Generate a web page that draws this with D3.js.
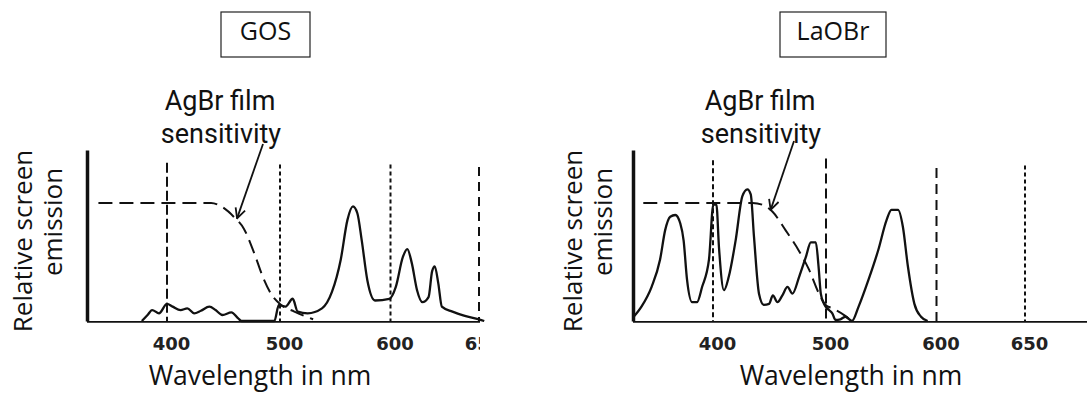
<!DOCTYPE html>
<html>
<head>
<meta charset="utf-8">
<script src="https://cdn.jsdelivr.net/npm/d3@7"></script>
<style>
  html, body { margin: 0; padding: 0; background: #fff; }
  svg { display: block; }
  text { fill: #111; }
</style>
</head>
<body>
<svg id="chart" width="1087" height="396" font-family="Open Sans, sans-serif"></svg>
<script>
// ---------- data ----------
const tickLabels = [400, 500, 600, 650];
const panelTitles = ["GOS", "LaOBr"];

const gosWavelength = [378, 383, 387, 393, 400, 405, 412, 418, 424, 430, 437.5, 443, 449, 457, 463, 466, 495, 499, 505, 511.5, 516, 525, 538, 547, 555, 561, 566, 570, 574, 579, 586, 599, 603, 607, 609.5, 612, 615, 618, 621.5, 623.5, 625, 627, 629, 635, 642, 650, 653];
const gosEmission   = [0, .035, .064, .045, .10, .084, .064, .074, .045, .06, .084, .064, .035, .05, .015, 0, 0, .094, .084, .13, .055, .045, .074, .17, .36, .59, .67, .63, .47, .24, .12, .13, .2, .375, .42, .34, .18, .11, .14, .29, .32, .22, .084, .055, .03, .01, 0];

const gosFilmWavelength  = [340, 439, 448, 459, 468, 477, 484.7, 492, 501, 513, 530];
const gosFilmSensitivity = [.69, .69, .67, .61, .54, .40, .26, .16, .094, .055, .01];

const laobrWavelength = [330, 337.4, 346.3, 353.7, 358.1, 362.6, 367, 371.4, 374.3, 377.3, 381.7, 386, 390.5, 396.5, 400.3, 403, 405.3, 409.7, 414, 420, 426, 430.4, 433.4, 436.3, 440.7, 445, 449.6, 453, 457, 461.4, 465.9, 470.3, 476.3, 482.2, 486.6, 491, 493.4, 495.4, 498.2, 502.7, 505.7, 508.6, 513, 517.6, 523.5, 529.5, 538.4, 547.3, 554.8, 559.2, 565.2, 569.6, 574.1, 580, 586, 592];
const laobrEmission   = [.02, .084, .20, .36, .53, .61, .62, .57, .47, .24, .11, .11, .20, .36, .68, .68, .43, .18, .26, .47, .73, .77, .74, .49, .16, .094, .10, .15, .11, .15, .20, .16, .26, .375, .46, .46, .32, .16, .10, .064, .045, .006, .01, .025, 0, .084, .24, .415, .59, .65, .65, .55, .32, .10, .025, 0];

const laobrFilmWavelength  = [339, 435, 443.6, 452.5, 464.3, 476.1, 485, 493.8, 499.7, 505.6, 517.4, 523];
const laobrFilmSensitivity = [.69, .69, .68, .64, .53, .41, .30, .16, .094, .075, .03, 0];

const annotationLines = ["AgBr film", "sensitivity"];
const yLabelLines = ["Relative screen", "emission"];
const xLabel = "Wavelength in nm";

// ---------- layout ----------
const svg = d3.select("#chart");
const baseY = 321, topY = 150;
const xDomain = [330, 400, 500, 600, 650, 690];
const xOffsets = [0, 80, 193, 303.5, 392, 462];

const panels = [
  { origin: 87, axisEnd: 483, clipLabels: 480, title: panelTitles[0], box: [221, 12, 89, 45],
    wl: gosWavelength, em: gosEmission, fwl: gosFilmWavelength, fs: gosFilmSensitivity,
    grid: [["10,4", 0.925], ["4,3", 0.915], ["4,3", 0.915], ["9,6", 0.9]],
    ann: { cx: 220, tip: [462, 0.6], start: [263, 144] },
    yl: { x1: 32, c1: 241, x2: 62, c2: 222 }, xl: 260 },
  { origin: 633, axisEnd: 1087, clipLabels: 1087, title: panelTitles[1], box: [780, 12, 106, 45],
    wl: laobrWavelength, em: laobrEmission, fwl: laobrFilmWavelength, fs: laobrFilmSensitivity,
    grid: [["5,3", 0.94], ["10,5", 0.95], ["10,6", 0.895], ["4,3", 0.91]],
    ann: { cx: 760, tip: [451, 0.65], start: [794, 141] },
    yl: { x1: 582, c1: 241, x2: 612, c2: 222 }, xl: 851 }
];

const defs = svg.append("defs");
defs.append("marker").attr("id", "arrow").attr("viewBox", "0 0 12 12")
  .attr("refX", 11).attr("refY", 6).attr("markerWidth", 12).attr("markerHeight", 12)
  .attr("markerUnits", "userSpaceOnUse").attr("orient", "auto")
  .append("path").attr("d", "M1,1 L11,6 L1,11").attr("fill", "none")
  .attr("stroke", "#111").attr("stroke-width", 1.8);

const y = d3.scaleLinear().domain([0, 1]).range([baseY, topY]);

panels.forEach((p, i) => {
  const x = d3.scaleLinear().domain(xDomain).range(xOffsets.map(o => p.origin + o));
  const g = svg.append("g");

  // title box
  g.append("rect").attr("x", p.box[0]).attr("y", p.box[1]).attr("width", p.box[2]).attr("height", p.box[3])
    .attr("fill", "none").attr("stroke", "#222").attr("stroke-width", 1.2);
  g.append("text").attr("x", p.box[0] + p.box[2] / 2).attr("y", 40).attr("text-anchor", "middle")
    .style("font-family", "'Open Sans', sans-serif").style("font-size", "25px").text(p.title);

  // vertical dashed gridlines
  g.selectAll(".grid").data(tickLabels).join("line")
    .attr("x1", d => x(d)).attr("x2", d => x(d))
    .attr("y1", (d, j) => y(p.grid[j][1])).attr("y2", y(0))
    .attr("stroke", "#111").attr("stroke-width", 2)
    .attr("stroke-dasharray", (d, j) => p.grid[j][0]);

  // film sensitivity dashed curve
  const line = d3.line().x(d => x(d[0])).y(d => y(d[1])).curve(d3.curveMonotoneX);
  g.append("path").datum(d3.zip(p.fwl, p.fs)).attr("d", line)
    .attr("fill", "none").attr("stroke", "#111").attr("stroke-width", 2)
    .attr("stroke-dasharray", "14,7");

  // emission curve
  g.append("path").datum(d3.zip(p.wl, p.em)).attr("d", line)
    .attr("fill", "none").attr("stroke", "#111").attr("stroke-width", 2.3)
    .attr("stroke-linejoin", "round");

  // axes
  const clipId = "clip" + i;
  defs.append("clipPath").attr("id", clipId).append("rect")
    .attr("x", 0).attr("y", 0).attr("width", p.clipLabels).attr("height", 396);
  const xAxis = g.append("g").attr("transform", `translate(0,${baseY})`)
    .call(d3.axisBottom(x).tickValues(tickLabels).tickSize(0).tickSizeOuter(0).tickPadding(16).tickFormat(d3.format("d")));
  xAxis.select(".domain").attr("d", `M${p.origin},0H${p.axisEnd}`).attr("stroke", "#111").attr("stroke-width", 3.5);
  xAxis.selectAll("text").attr("dx", 4)
    .style("font-family", "'DejaVu Sans', sans-serif").style("font-size", "18px").style("font-weight", "bold")
    .style("fill", "#222");
  xAxis.attr("clip-path", `url(#${clipId})`);

  const yAxis = g.append("g").attr("transform", `translate(${p.origin},0)`)
    .call(d3.axisLeft(y).ticks(0).tickSize(0).tickSizeOuter(0));
  yAxis.select(".domain").attr("stroke", "#111").attr("stroke-width", 3.5);

  // axis titles
  const titleFont = "'Open Sans', sans-serif";
  g.append("text").attr("transform", `translate(${p.yl.x1},${p.yl.c1}) rotate(-90)`)
    .attr("text-anchor", "middle").style("font-family", titleFont).style("font-size", "26px").text(yLabelLines[0]);
  g.append("text").attr("transform", `translate(${p.yl.x2},${p.yl.c2}) rotate(-90)`)
    .attr("text-anchor", "middle").style("font-family", titleFont).style("font-size", "26px").text(yLabelLines[1]);
  g.append("text").attr("x", p.xl).attr("y", 385).attr("text-anchor", "middle")
    .style("font-family", titleFont).style("font-size", "26.5px").text(xLabel);

  // annotation (two lines)
  g.append("text").attr("x", p.ann.cx).attr("y", 110).attr("text-anchor", "middle")
    .style("font-family", "Roboto, sans-serif").style("font-size", "27px").text(annotationLines[0]);
  g.append("text").attr("x", p.ann.cx + 1).attr("y", 142.5).attr("text-anchor", "middle")
    .style("font-family", "Roboto, sans-serif").style("font-size", "27px").text(annotationLines[1]);
  g.append("line").attr("x1", p.ann.start[0]).attr("y1", p.ann.start[1])
    .attr("x2", x(p.ann.tip[0])).attr("y2", y(p.ann.tip[1]))
    .attr("stroke", "#111").attr("stroke-width", 1.8).attr("marker-end", "url(#arrow)");
});
</script>
</body>
</html>
